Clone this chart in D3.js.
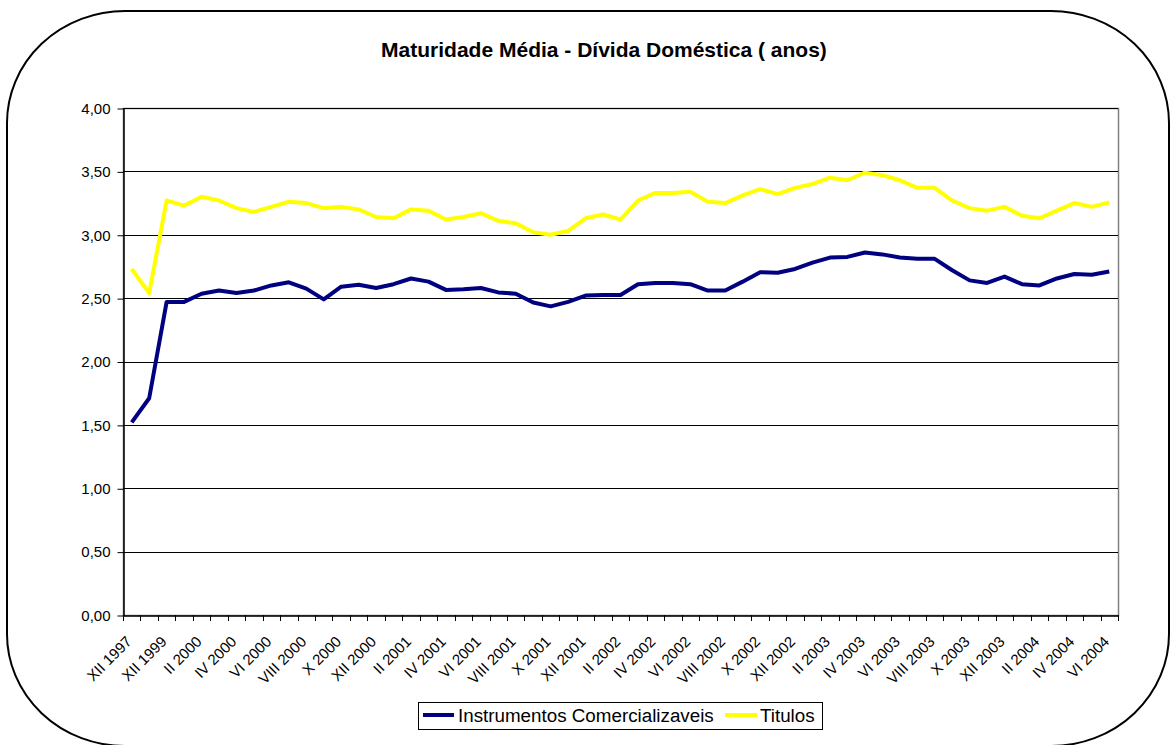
<html>
<head>
<meta charset="utf-8">
<script src="https://cdn.jsdelivr.net/npm/d3@7"></script>
<style>
  body { margin: 0; background: #fff; }
  text { font-family: "Liberation Sans", Arial, sans-serif; }
</style>
</head>
<body>
<svg width="1172" height="745"></svg>
<script>
// categories (one per month, first two are year-end points)
var categories = ["XII 1997","XII 1998","XII 1999",
  "I 2000","II 2000","III 2000","IV 2000","V 2000","VI 2000","VII 2000","VIII 2000","IX 2000","X 2000","XI 2000","XII 2000",
  "I 2001","II 2001","III 2001","IV 2001","V 2001","VI 2001","VII 2001","VIII 2001","IX 2001","X 2001","XI 2001","XII 2001",
  "I 2002","II 2002","III 2002","IV 2002","V 2002","VI 2002","VII 2002","VIII 2002","IX 2002","X 2002","XI 2002","XII 2002",
  "I 2003","II 2003","III 2003","IV 2003","V 2003","VI 2003","VII 2003","VIII 2003","IX 2003","X 2003","XI 2003","XII 2003",
  "I 2004","II 2004","III 2004","IV 2004","V 2004","VI 2004"];

var instrumentos = [1.52,1.71,2.47,2.47,2.535,2.56,2.54,2.56,2.60,2.625,2.575,2.49,2.59,2.605,2.58,
  2.61,2.655,2.63,2.565,2.57,2.58,2.545,2.535,2.465,2.435,2.47,2.52,2.525,2.525,2.61,
  2.62,2.62,2.61,2.56,2.56,2.63,2.705,2.70,2.73,2.78,2.82,2.825,2.86,2.845,2.82,
  2.81,2.81,2.72,2.64,2.62,2.67,2.61,2.60,2.655,2.69,2.685,2.71];

var titulos = [2.73,2.54,3.27,3.23,3.30,3.27,3.21,3.18,3.22,3.26,3.25,3.21,3.22,3.20,3.14,
  3.13,3.20,3.19,3.12,3.14,3.17,3.11,3.09,3.02,3.00,3.03,3.13,3.16,3.12,3.27,
  3.33,3.33,3.34,3.26,3.25,3.31,3.36,3.32,3.37,3.40,3.45,3.43,3.49,3.47,3.43,
  3.37,3.37,3.27,3.21,3.19,3.22,3.15,3.13,3.19,3.25,3.22,3.255];

var yTicks = [0, 0.5, 1, 1.5, 2, 2.5, 3, 3.5, 4];
var seriesNames = ["Instrumentos Comercializaveis", "Titulos"];
var seriesColors = ["#000080", "#ffff00"];

var svg = d3.select("svg");

// outer rounded frame
svg.append("rect")
  .attr("x", 7).attr("y", 11)
  .attr("width", 1162).attr("height", 735)
  .attr("rx", 118).attr("ry", 112)
  .attr("fill", "#fff")
  .attr("stroke", "#000").attr("stroke-width", 2);

var pLeft = 123, pRight = 1118, pTop = 108, pBottom = 615;

var x = d3.scaleBand().domain(categories).range([pLeft, pRight]).padding(0);
var y = d3.scaleLinear().domain([0, 4]).range([pBottom, pTop]);

// title
svg.append("text")
  .attr("x", 604).attr("y", 57)
  .attr("text-anchor", "middle")
  .style("font-size", "21px").style("font-weight", "bold")
  .text("Maturidade Média - Dívida Doméstica ( anos)");

// plot area border
svg.append("rect")
  .attr("x", pLeft + 0.5).attr("y", pTop + 0.5)
  .attr("width", pRight - pLeft).attr("height", pBottom - pTop)
  .attr("fill", "none").attr("stroke", "#808080").attr("stroke-width", 1.5);

// gridlines
svg.append("g").selectAll("line")
  .data(yTicks.filter(function(d) { return d > 0; }))
  .enter().append("line")
    .attr("x1", pLeft).attr("x2", pRight)
    .attr("y1", function(d) { return Math.round(y(d)) + 0.5; })
    .attr("y2", function(d) { return Math.round(y(d)) + 0.5; })
    .attr("stroke", "#000").attr("stroke-width", 1);

// y axis
var yAxis = svg.append("g")
  .attr("transform", "translate(" + (pLeft + 0.5) + ",0.5)")
  .call(d3.axisLeft(y).tickValues(yTicks).tickSize(6).tickSizeOuter(0)
    .tickFormat(function(d) { return d.toFixed(2).replace(".", ","); }));
yAxis.selectAll("text").style("font-size", "15px").attr("fill", "#000").attr("x", -13);
yAxis.selectAll("line").attr("stroke", "#000");
yAxis.select(".domain").attr("stroke", "#000").attr("stroke-width", 1.5);

// x axis: labels on every other category
var labelCats = categories.filter(function(d, i) { return i % 2 == 0; });
var xAxis = svg.append("g")
  .attr("transform", "translate(0," + (pBottom + 0.5) + ")")
  .call(d3.axisBottom(x).tickValues(labelCats).tickSize(0).tickSizeOuter(0));
xAxis.select(".domain").attr("stroke", "#000").attr("stroke-width", 1.5);
xAxis.selectAll("text")
  .style("font-size", "15px").attr("fill", "#000")
  .attr("text-anchor", "end")
  .attr("dy", null).attr("y", null)
  .attr("transform", "translate(1,27) rotate(-45)");

// tick marks at category boundaries
var bounds = categories.map(function(d) { return x(d); }).concat([x(categories[categories.length - 1]) + x.bandwidth()]);
svg.append("g").selectAll("line")
  .data(bounds)
  .enter().append("line")
    .attr("x1", function(d) { return Math.round(d) + 0.5; })
    .attr("x2", function(d) { return Math.round(d) + 0.5; })
    .attr("y1", pBottom).attr("y2", pBottom + 6)
    .attr("stroke", "#000");

// lines
var line = d3.line()
  .x(function(d, i) { return x(categories[i]) + x.bandwidth() / 2; })
  .y(function(d) { return y(d); });

[instrumentos, titulos].forEach(function(s, k) {
  svg.append("path")
    .datum(s)
    .attr("fill", "none")
    .attr("stroke", seriesColors[k])
    .attr("stroke-width", 4)
    .attr("stroke-linejoin", "round")
    .attr("d", line);
});

// legend
var lg = svg.append("g");
lg.append("rect")
  .attr("x", 418.5).attr("y", 702.5)
  .attr("width", 404).attr("height", 27)
  .attr("fill", "#fff").attr("stroke", "#000");
var legendItems = [{x: 423, w: 31, tx: 458}, {x: 725, w: 32, tx: 760}];
legendItems.forEach(function(it, k) {
  lg.append("line")
    .attr("x1", it.x).attr("x2", it.x + it.w)
    .attr("y1", 715).attr("y2", 715)
    .attr("stroke", seriesColors[k]).attr("stroke-width", 4);
  lg.append("text")
    .attr("x", it.tx).attr("y", 722)
    .style("font-size", "18.8px")
    .text(seriesNames[k]);
});
</script>
</body>
</html>
